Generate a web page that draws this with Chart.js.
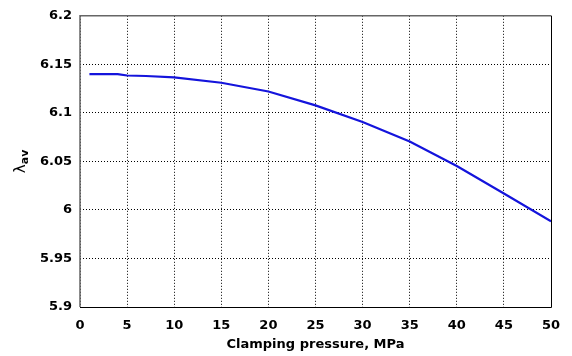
<!DOCTYPE html>
<html>
<head>
<meta charset="utf-8">
<script src="https://cdn.jsdelivr.net/npm/chart.js@4"></script>
<style>
html,body{margin:0;padding:0;background:#fff;}
#wrap{width:572px;height:356px;}
</style>
</head>
<body>
<div id="wrap"><canvas id="c" width="572" height="356"></canvas></div>
<script>
const pressure = [1, 2, 3, 4, 5, 7, 10, 15, 20, 25, 30, 35, 40, 45, 50];
const lambdaAv = [6.140, 6.140, 6.140, 6.140, 6.1385, 6.1380, 6.1365, 6.1310, 6.1220, 6.1077, 6.0905, 6.0705, 6.0452, 6.0170, 5.9882];
const xTicks = [0, 5, 10, 15, 20, 25, 30, 35, 40, 45, 50];
const yTicks = [5.9, 5.95, 6.0, 6.05, 6.1, 6.15, 6.2];
const yTickLabels = ['5.9', '5.95', '6', '6.05', '6.1', '6.15', '6.2'];
const xTitle = 'Clamping pressure, MPa';
const yTitleMain = 'λ';
const yTitleSub = 'av';

const FONT = '"DejaVu Sans", sans-serif';

const frame = {
  id: 'frame',
  afterDatasetsDraw(chart) {
    const {ctx, chartArea: a} = chart;
    ctx.save();
    ctx.lineWidth = 1;
    ctx.strokeStyle = '#000';
    ctx.beginPath();
    ctx.moveTo(a.left, a.bottom + 0.5);
    ctx.lineTo(a.right + 0.5, a.bottom + 0.5);
    ctx.lineTo(a.right + 0.5, a.top);
    ctx.stroke();
    ctx.strokeStyle = '#666';
    ctx.lineWidth = 1.5;
    ctx.beginPath();
    ctx.moveTo(a.right, a.top);
    ctx.lineTo(a.left, a.top);
    ctx.lineTo(a.left, a.bottom);
    ctx.stroke();
    ctx.restore();
  }
};

const yTitle = {
  id: 'yTitle',
  afterDraw(chart) {
    const {ctx, chartArea: a} = chart;
    const cy = (a.top + a.bottom) / 2;
    ctx.save();
    ctx.translate(25, cy);
    ctx.rotate(-Math.PI / 2);
    ctx.fillStyle = '#000';
    ctx.textBaseline = 'alphabetic';
    ctx.font = '15px ' + FONT;
    const w1 = ctx.measureText(yTitleMain).width;
    ctx.font = 'bold 11px ' + FONT;
    const w2 = ctx.measureText(yTitleSub).width;
    const start = -(w1 + w2) / 2;
    ctx.font = '15px ' + FONT;
    ctx.fillText(yTitleMain, start, 0);
    ctx.font = 'bold 11px ' + FONT;
    ctx.fillText(yTitleSub, start + w1, 3);
    ctx.restore();
  }
};

new Chart(document.getElementById('c'), {
  type: 'line',
  data: {
    datasets: [{
      data: pressure.map((x, i) => ({x: x, y: lambdaAv[i]})),
      borderColor: '#1414dc',
      borderWidth: 2.2,
      pointRadius: 0,
      tension: 0,
      fill: false
    }]
  },
  options: {
    responsive: false,
    animation: false,
    devicePixelRatio: 1,
    layout: {padding: {left: 0, right: 21, top: 12, bottom: 0}},
    plugins: {legend: {display: false}, tooltip: {enabled: false}},
    scales: {
      x: {
        type: 'linear',
        min: 0, max: 50,
        afterBuildTicks: s => { s.ticks = xTicks.map(v => ({value: v})); },
        afterFit: s => { s.height = 49; },
        ticks: {
          color: '#000',
          font: {family: FONT, size: 13, weight: 'bold'},
          padding: 11,
          maxRotation: 0,
          callback: v => String(v)
        },
        grid: {
          color: '#000',
          lineWidth: 1,
          drawTicks: false
        },
        border: {display: false, dash: [1, 2]},
        title: {
          display: true,
          text: xTitle,
          color: '#000',
          font: {family: FONT, size: 13, weight: 'bold'},
          padding: {top: 0, bottom: 4}
        }
      },
      y: {
        type: 'linear',
        min: 5.9, max: 6.2,
        afterBuildTicks: s => { s.ticks = yTicks.map(v => ({value: v})); },
        afterFit: s => { s.width = 80; },
        ticks: {
          color: '#000',
          font: {family: FONT, size: 13, weight: 'bold'},
          padding: 8,
          callback: (v, i) => yTickLabels[i]
        },
        grid: {
          color: '#000',
          lineWidth: 1,
          drawTicks: false
        },
        border: {display: false, dash: [1, 2]}
      }
    }
  },
  plugins: [frame, yTitle]
});
</script>
</body>
</html>
